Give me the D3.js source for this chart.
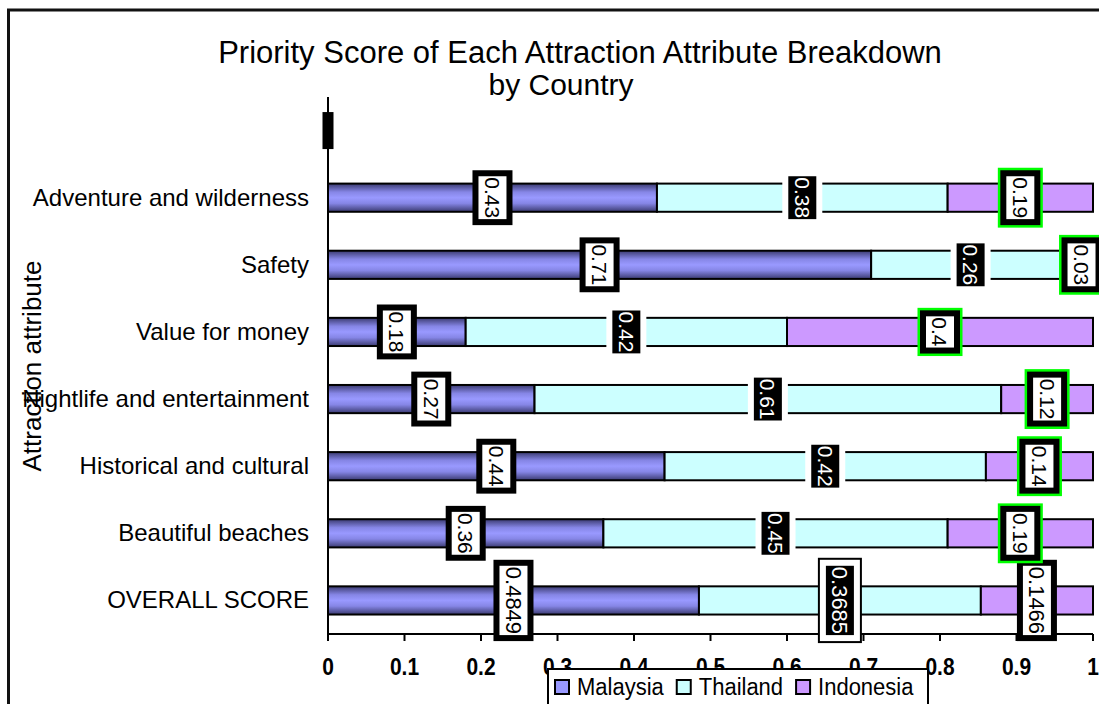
<!DOCTYPE html>
<html>
<head>
<meta charset="utf-8">
<script src="https://cdn.jsdelivr.net/npm/d3@7"></script>
<style>
  body { margin: 0; background: #fff; }
  svg { display: block; font-family: "Liberation Sans", Arial, sans-serif; }
</style>
</head>
<body>
<svg id="chart" width="1099" height="704"></svg>
<script>
// bottom to top, the last one is an empty category
const categories = ['OVERALL SCORE', 'Beautiful beaches', 'Historical and cultural',
  'Nightlife and entertainment', 'Value for money', 'Safety', 'Adventure and wilderness', ''];
const malaysia  = [0.4849, 0.36, 0.44, 0.27, 0.18, 0.71, 0.43, 0];
const thailand  = [0.3685, 0.45, 0.42, 0.61, 0.42, 0.26, 0.38, 0];
const indonesia = [0.1466, 0.19, 0.14, 0.12, 0.40, 0.03, 0.19, 0];
const seriesNames = ['Malaysia', 'Thailand', 'Indonesia'];
const xTicks = [0, 0.1, 0.2, 0.3, 0.4, 0.5, 0.6, 0.7, 0.8, 0.9, 1];

const colors = {Malaysia: 'url(#gradMy)', Thailand: '#CCFFFF', Indonesia: '#CC99FF'};
const swatch = {Malaysia: '#9999FF', Thailand: '#CCFFFF', Indonesia: '#CC99FF'};

let rows = categories.map((c, i) => ({
  cat: c, Malaysia: malaysia[i], Thailand: thailand[i], Indonesia: indonesia[i]
}));

let svg = d3.select('#chart');

let defs = svg.append('defs');
let grad = defs.append('linearGradient')
  .attr('id', 'gradMy')
  .attr('x1', 0).attr('y1', 0).attr('x2', 0).attr('y2', 1);
[[0, '#3a3a70'], [0.3, '#8686e6'], [0.5, '#9999ff'], [0.7, '#8686e6'], [1, '#3a3a70']]
  .forEach(s => grad.append('stop').attr('offset', s[0]).attr('stop-color', s[1]));

// outer chart border (runs off the right and bottom)
svg.append('rect')
  .attr('x', 8.5).attr('y', 10)
  .attr('width', 1200).attr('height', 800)
  .attr('fill', 'none')
  .attr('stroke', '#111')
  .attr('stroke-width', 3);

// title
svg.append('text')
  .attr('x', 580).attr('y', 63)
  .attr('text-anchor', 'middle')
  .style('font-size', '31px')
  .text('Priority Score of Each Attraction Attribute Breakdown');
svg.append('text')
  .attr('x', 561).attr('y', 95)
  .attr('text-anchor', 'middle')
  .style('font-size', '30px')
  .text('by Country');

// scales
let x = d3.scaleLinear().domain([0, 1]).range([328, 1093]);
let y = d3.scaleBand().domain(categories).range([634, 97])
  .paddingInner(0.58).paddingOuter(0.29);

let stacked = d3.stack().keys(seriesNames)(rows);

// bars
let g = svg.append('g');
stacked.forEach(layer => {
  g.selectAll(null)
    .data(layer.filter(d => d.data.cat !== ''))
    .enter().append('rect')
    .attr('x', d => x(d[0]))
    .attr('y', d => y(d.data.cat))
    .attr('width', d => x(d[1]) - x(d[0]))
    .attr('height', y.bandwidth())
    .attr('fill', colors[layer.key])
    .attr('stroke', '#000')
    .attr('stroke-width', 2);
});

// category labels
svg.append('g').selectAll('text')
  .data(categories)
  .enter().append('text')
  .attr('x', 309)
  .attr('y', d => y(d) + y.bandwidth() / 2 + 8)
  .attr('text-anchor', 'end')
  .style('font-size', '24px')
  .text(d => d);

// y axis title
svg.append('text')
  .attr('transform', 'translate(41,366) rotate(-90)')
  .attr('text-anchor', 'middle')
  .style('font-size', '26px')
  .text('Attraction attribute');

// y axis line
svg.append('line')
  .attr('x1', x(0)).attr('x2', x(0))
  .attr('y1', 97).attr('y2', 634)
  .attr('stroke', '#000').attr('stroke-width', 2);

// x axis
let xAxis = svg.append('g');
xAxis.append('line')
  .attr('x1', x(0)).attr('x2', x(1))
  .attr('y1', 634).attr('y2', 634)
  .attr('stroke', '#000').attr('stroke-width', 2);
xAxis.selectAll('line.tick')
  .data(xTicks)
  .enter().append('line')
  .attr('class', 'tick')
  .attr('x1', d => x(d)).attr('x2', d => x(d))
  .attr('y1', 634).attr('y2', 641)
  .attr('stroke', '#000').attr('stroke-width', 2);
xAxis.selectAll('text')
  .data(xTicks)
  .enter().append('text')
  .attr('transform', d => 'translate(' + x(d) + ',675) scale(1,1.12)')
  .attr('text-anchor', 'middle')
  .style('font-size', '21px')
  .style('font-weight', 'bold')
  .text(d => String(d));

// the blank category only shows a collapsed label
let blank = categories[categories.length - 1];
svg.append('rect')
  .attr('x', x(0) - 5.5)
  .attr('y', y(blank) + y.bandwidth() / 2 - 18.5)
  .attr('width', 11)
  .attr('height', 37)
  .attr('fill', '#000');

// data label box styles: layers listed from inside out
const boxStyle = {
  Malaysia:  {fill: '#fff', text: '#000', layers: [[6, '#000']]},
  Thailand:  {fill: '#000', text: '#fff', layers: [[6, '#fff']]},
  Indonesia: {fill: '#fff', text: '#000', layers: [[6, '#000'], [2.5, '#00ff00']]}
};
const overallStyle = {
  Malaysia:  {fill: '#fff', text: '#000', layers: [[6, '#000']]},
  Thailand:  {fill: '#000', text: '#fff', layers: [[6, '#fff'], [2, '#000']]},
  Indonesia: {fill: '#fff', text: '#000', layers: [[6, '#000']]}
};

let labels = svg.append('g');
stacked.forEach(layer => {
  layer.filter(d => d.data.cat !== '').forEach(d => {
    let overall = d.data.cat === 'OVERALL SCORE';
    let st = overall ? overallStyle[layer.key] : boxStyle[layer.key];
    let fs = overall ? 22 : 21;
    let cx = x((d[0] + d[1]) / 2);
    let cy = y(d.data.cat) + y.bandwidth() / 2;
    let lg = labels.append('g').attr('transform', 'translate(' + cx + ',' + cy + ')');
    let t = lg.append('text')
      .attr('transform', 'rotate(90)')
      .attr('text-anchor', 'middle')
      .attr('dy', '0.36em')
      .style('font-size', fs + 'px')
      .attr('fill', st.text)
      .text(String(d.data[layer.key]));
    let len = t.node().getComputedTextLength();
    let w = 28, h = len + 2;
    let pad = d3.sum(st.layers, l => l[0]);
    // outermost first
    st.layers.slice().reverse().forEach(l => {
      lg.insert('rect', 'text')
        .attr('x', -w / 2 - pad).attr('y', -h / 2 - pad)
        .attr('width', w + 2 * pad).attr('height', h + 2 * pad)
        .attr('fill', l[1]);
      pad -= l[0];
    });
    lg.insert('rect', 'text')
      .attr('x', -w / 2).attr('y', -h / 2)
      .attr('width', w).attr('height', h)
      .attr('fill', st.fill);
  });
});

// legend
let legend = svg.append('g');
legend.append('rect')
  .attr('x', 548).attr('y', 669)
  .attr('width', 380).attr('height', 60)
  .attr('fill', '#fff')
  .attr('stroke', '#000')
  .attr('stroke-width', 2);
let lx = 555;
seriesNames.forEach(name => {
  legend.append('rect')
    .attr('x', lx).attr('y', 680)
    .attr('width', 14).attr('height', 14)
    .attr('fill', swatch[name])
    .attr('stroke', '#000')
    .attr('stroke-width', 2);
  let t = legend.append('text')
    .attr('transform', 'translate(' + (lx + 22) + ',695) scale(1,1.1)')
    .style('font-size', '22px')
    .text(name);
  lx += 22 + t.node().getComputedTextLength() + 13;
});
</script>
</body>
</html>
